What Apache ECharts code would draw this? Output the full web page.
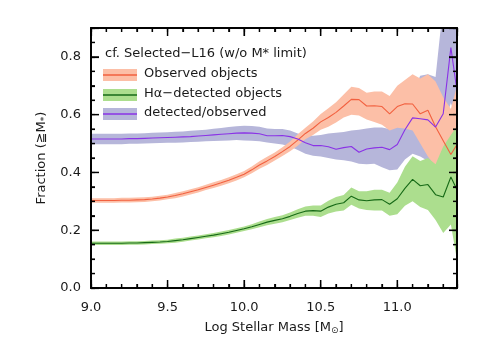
<!DOCTYPE html>
<html>
<head>
<meta charset="utf-8">
<script src="https://cdn.jsdelivr.net/npm/echarts@6/dist/echarts.min.js"></script>
<style>
html,body{margin:0;padding:0;background:#fff;}
#chart{width:485px;height:346px;}
</style>
</head>
<body>
<div id="chart"></div>
<script>
// ---- Data ----
const logMass = [9.00,9.05,9.10,9.15,9.20,9.25,9.30,9.35,9.40,9.45,
                 9.50,9.55,9.60,9.65,9.70,9.75,9.80,9.85,9.90,9.95,
                 10.00,10.05,10.10,10.15,10.20,10.25,10.30,10.35,10.40,10.45,
                 10.50,10.55,10.60,10.65,10.70,10.75,10.80,10.85,10.90,10.95,
                 11.00,11.05,11.10,11.15,11.20,11.25,11.30,11.35,11.39];

const observed = [0.303,0.303,0.303,0.303,0.304,0.304,0.305,0.306,0.308,0.311,
                  0.315,0.320,0.326,0.333,0.340,0.348,0.356,0.364,0.373,0.383,
                  0.394,0.409,0.426,0.440,0.455,0.472,0.490,0.512,0.535,0.553,
                  0.575,0.590,0.608,0.630,0.653,0.652,0.630,0.631,0.628,0.603,
                  0.628,0.638,0.637,0.603,0.615,0.558,0.510,0.462,0.497];
const observedLo = [0.295,0.295,0.295,0.295,0.296,0.296,0.297,0.298,0.300,0.303,
                    0.307,0.311,0.317,0.324,0.331,0.339,0.346,0.354,0.363,0.372,
                    0.383,0.397,0.413,0.426,0.441,0.457,0.473,0.492,0.515,0.530,
                    0.548,0.558,0.573,0.590,0.600,0.597,0.583,0.575,0.565,0.545,
                    0.555,0.552,0.545,0.500,0.455,0.420,0.400,0.380,0.400];
const observedHi = [0.311,0.311,0.311,0.311,0.312,0.312,0.313,0.314,0.316,0.319,
                    0.323,0.329,0.335,0.342,0.349,0.357,0.366,0.374,0.383,0.394,
                    0.405,0.421,0.439,0.454,0.469,0.487,0.507,0.532,0.555,0.576,
                    0.602,0.622,0.643,0.670,0.697,0.692,0.676,0.680,0.680,0.665,
                    0.700,0.720,0.740,0.725,0.740,0.715,0.660,0.620,0.700];

const detected = [0.155,0.155,0.155,0.155,0.155,0.156,0.156,0.157,0.158,0.159,
                  0.161,0.164,0.167,0.171,0.175,0.179,0.183,0.188,0.193,0.199,
                  0.205,0.212,0.220,0.228,0.234,0.240,0.248,0.258,0.266,0.268,
                  0.266,0.280,0.290,0.295,0.318,0.305,0.302,0.305,0.306,0.290,
                  0.309,0.345,0.376,0.354,0.358,0.323,0.315,0.384,0.340];
const detectedLo = [0.149,0.149,0.149,0.149,0.149,0.150,0.150,0.151,0.152,0.153,
                    0.155,0.157,0.160,0.164,0.168,0.172,0.176,0.180,0.185,0.191,
                    0.197,0.203,0.210,0.217,0.222,0.228,0.235,0.243,0.250,0.250,
                    0.246,0.258,0.265,0.268,0.288,0.275,0.270,0.268,0.268,0.250,
                    0.255,0.285,0.300,0.280,0.270,0.235,0.190,0.220,0.097];
const detectedHi = [0.161,0.161,0.161,0.161,0.161,0.162,0.162,0.163,0.164,0.165,
                    0.167,0.171,0.174,0.178,0.182,0.186,0.190,0.196,0.201,0.207,
                    0.213,0.221,0.230,0.239,0.246,0.252,0.261,0.273,0.282,0.286,
                    0.286,0.302,0.315,0.322,0.348,0.335,0.335,0.340,0.340,0.330,
                    0.365,0.420,0.456,0.440,0.450,0.428,0.490,0.530,0.560];

const ratio = [0.516,0.516,0.516,0.516,0.516,0.517,0.517,0.518,0.519,0.520,
               0.521,0.522,0.523,0.524,0.526,0.528,0.530,0.532,0.534,0.536,
               0.537,0.536,0.534,0.527,0.527,0.528,0.524,0.516,0.503,0.493,
               0.493,0.489,0.480,0.486,0.490,0.470,0.481,0.485,0.487,0.479,
               0.497,0.548,0.589,0.586,0.582,0.557,0.603,0.832,0.682];
const ratioLo = [0.498,0.498,0.498,0.498,0.498,0.499,0.499,0.500,0.501,0.502,
                 0.503,0.503,0.504,0.505,0.506,0.508,0.509,0.510,0.511,0.512,
                 0.511,0.510,0.508,0.504,0.500,0.497,0.490,0.478,0.465,0.458,
                 0.455,0.450,0.445,0.442,0.438,0.430,0.428,0.430,0.418,0.408,
                 0.410,0.445,0.465,0.455,0.440,0.428,0.560,0.640,0.580];
const ratioHi = [0.534,0.534,0.534,0.534,0.534,0.535,0.535,0.536,0.537,0.538,
                 0.539,0.541,0.542,0.544,0.546,0.548,0.551,0.554,0.557,0.560,
                 0.562,0.561,0.558,0.552,0.550,0.550,0.545,0.535,0.527,0.527,
                 0.530,0.535,0.537,0.540,0.545,0.548,0.552,0.556,0.556,0.550,
                 0.560,0.620,0.680,0.735,0.740,0.730,0.980,1.000,1.000];

// tick values (major ones are labelled)
const xTicks = [9.0,9.1,9.2,9.3,9.4,9.5,9.6,9.7,9.8,9.9,10.0,10.1,10.2,10.3,10.4,
                10.5,10.6,10.7,10.8,10.9,11.0,11.1,11.2,11.3];
const xMajorTicks = [9.0,9.5,10.0,10.5,11.0];
const yTicks = [0.00,0.05,0.10,0.15,0.20,0.25,0.30,0.35,0.40,0.45,0.50,0.55,0.60,
                0.65,0.70,0.75,0.80,0.85];
const yMajorTicks = [0.0,0.2,0.4,0.6,0.8];
const xMin = 9.0, xMax = 11.39, xInterval = 0.5, xMinorInterval = 0.1;
const yMin = 0.0, yMax = 0.9, yInterval = 0.2, yMinorInterval = 0.05;

const legendTitle = 'cf. Selected\u2212L16 (w/o M* limit)';
const legendNames = ['Observed objects', 'H\u03b1\u2212detected objects', 'detected/observed'];

// ---- Layout / styles ----
const GRID = {left: 91, right: 28, top: 28, bottom: 58};
const FONT = 'DejaVu Sans';
const TXT = '#1a1a1a';
const C = {
  redBand: '#fcbfa7', redLine: '#f2603f',
  greenBand: '#acde8e', greenLine: '#176a17',
  blueBand: '#b6b6da', blueLine: '#8a32e6'
};

const chart = echarts.init(document.getElementById('chart'), null, {renderer: 'canvas'});

function bandSeries(name, lo, hi, color, z) {
  return {
    type: 'custom', name: name, xAxisIndex: 0, yAxisIndex: 0, z: z, silent: true,
    data: logMass.map((x, i) => [x, lo[i], hi[i]]),
    encode: {x: 0, y: [1, 2]},
    renderItem: function (params, api) {
      if (params.dataIndex !== 0) return null;
      const top = [], bot = [];
      for (let i = 0; i < logMass.length; i++) {
        top.push(api.coord([logMass[i], hi[i]]));
        bot.push(api.coord([logMass[i], lo[i]]));
      }
      const cs = params.coordSys;
      return {
        type: 'polygon',
        shape: {points: top.concat(bot.reverse())},
        style: {fill: color, stroke: null},
        clipPath: {type: 'rect', shape: {x: cs.x, y: cs.y, width: cs.width, height: cs.height}}
      };
    }
  };
}
function lineSeries(name, vals, color, z) {
  return {
    type: 'line', name: name, xAxisIndex: 0, yAxisIndex: 0, z: z, silent: true,
    data: logMass.map((x, i) => [x, vals[i]]),
    showSymbol: false, symbol: 'none', animation: false,
    lineStyle: {color: color, width: 1.1}
  };
}

const near = (v, list) => list.some(m => Math.abs(m - v) < 1e-6);

// ---- Tick marks: one custom-series item per tick, each drawn as a small polygon ----
// item = [x, y, side]  side: 0 bottom, 1 top, 2 left, 3 right
const MAJ = 8, MIN = 4, TW = 1.3;
const tickItems = [];
xTicks.forEach(x => { tickItems.push([x, yMin, 0]); tickItems.push([x, yMax, 1]); });
yTicks.forEach(y => { tickItems.push([xMin, y, 2]); tickItems.push([xMax, y, 3]); });
const tickSeries = {
  type: 'custom', name: 'ticks', xAxisIndex: 0, yAxisIndex: 0, z: 7, silent: true,
  data: tickItems,
  encode: {x: 0, y: 1},
  renderItem: function (params, api) {
    const x = api.value(0), y = api.value(1), side = api.value(2);
    const p = api.coord([x, y]);
    const h = TW / 2;
    let pts;
    if (side === 0 || side === 1) {
      const len = near(x, xMajorTicks) ? MAJ : MIN;
      const d = side === 0 ? -len : len;
      pts = [[p[0] - h, p[1]], [p[0] + h, p[1]], [p[0] + h, p[1] + d], [p[0] - h, p[1] + d]];
    } else {
      const len = near(y, yMajorTicks) ? MAJ : MIN;
      const d = side === 2 ? len : -len;
      pts = [[p[0], p[1] - h], [p[0], p[1] + h], [p[0] + d, p[1] + h], [p[0] + d, p[1] - h]];
    }
    return {type: 'polygon', shape: {points: pts}, style: {fill: '#000', stroke: null}};
  }
};

const subRich = {sub: {fontFamily: FONT, fontSize: 9, color: TXT, verticalAlign: 'bottom', padding: [6, 0, 0, 0]}};

function xAx(pos, interval, len, labels) {
  return {
    type: 'value', position: pos, min: xMin, max: xMax, interval: interval, z: 20,
    axisLine: {show: true, onZero: false, lineStyle: {color: '#000', width: 1.5}},
    axisTick: {show: true, inside: true, length: len, lineStyle: {color: '#000', width: 1.2}},
    splitLine: {show: false},
    axisLabel: labels ? {
      show: true, margin: 13, fontFamily: FONT, fontSize: 13, color: TXT,
      formatter: v => near(v, xMajorTicks) ? v.toFixed(1) : ''
    } : {show: false}
  };
}
function yAx(pos, interval, len, labels) {
  return {
    type: 'value', position: pos, min: yMin, max: yMax, interval: interval, z: 20,
    axisLine: {show: true, onZero: false, lineStyle: {color: '#000', width: 1.5}},
    axisTick: {show: true, inside: true, length: len, lineStyle: {color: '#000', width: 1.2}},
    splitLine: {show: false},
    axisLabel: labels ? {
      show: true, margin: 10, fontFamily: FONT, fontSize: 13, color: TXT,
      formatter: v => near(v, yMajorTicks) ? v.toFixed(1) : ''
    } : {show: false}
  };
}
const xAxes = [
  xAx('bottom', xInterval, MAJ, true),
  xAx('bottom', xMinorInterval, MIN, false),
  xAx('top', xInterval, MAJ, false),
  xAx('top', xMinorInterval, MIN, false)
];
Object.assign(xAxes[0], {
  name: 'Log Stellar Mass [M{sub|\u2299}]', nameLocation: 'middle', nameGap: 32,
  nameTextStyle: {fontFamily: FONT, fontSize: 13, color: TXT, rich: subRich}
});
const yAxes = [
  yAx('left', yInterval, MAJ, true),
  yAx('left', yMinorInterval, MIN, false),
  yAx('right', yInterval, MAJ, false),
  yAx('right', yMinorInterval, MIN, false)
];
Object.assign(yAxes[0], {
  name: 'Fraction (\u2267M{sub|*})', nameLocation: 'middle', nameGap: 32,
  nameTextStyle: {fontFamily: FONT, fontSize: 13, color: TXT, rich: subRich}
});

// legend drawn as graphics
const legX = 103, legW = 34, legH = 12, legTextX = 144;
const legRows = [75, 95, 114];
const legBand = [C.redBand, C.greenBand, C.blueBand];
const legLine = [C.redLine, C.greenLine, C.blueLine];
const graphics = [{
  type: 'text', left: 105, top: 55 - 8, z: 100,
  style: {text: legendTitle, font: '13px "' + FONT + '"', fill: TXT}
}];
legRows.forEach((cy, i) => {
  graphics.push({type: 'rect', z: 100, shape: {x: legX, y: cy - legH / 2, width: legW, height: legH}, style: {fill: legBand[i]}});
  graphics.push({type: 'line', z: 101, shape: {x1: legX, y1: cy, x2: legX + legW, y2: cy}, style: {stroke: legLine[i], lineWidth: 1.3}});
  graphics.push({type: 'text', z: 100, left: legTextX, top: cy - 8,
    style: {text: legendNames[i], font: '13px "' + FONT + '"', fill: TXT}});
});

chart.setOption({
  animation: false,
  backgroundColor: '#fff',
  grid: Object.assign({containLabel: false, show: true, borderColor: '#000', borderWidth: 1.5,
                       backgroundColor: 'transparent', z: 10}, GRID),
  xAxis: xAxes,
  yAxis: yAxes,
  graphic: graphics,
  series: [
    bandSeries('ratioBand', ratioLo, ratioHi, C.blueBand, 1),
    bandSeries('observedBand', observedLo, observedHi, C.redBand, 2),
    bandSeries('detectedBand', detectedLo, detectedHi, C.greenBand, 3),
    lineSeries(legendNames[0], observed, C.redLine, 5),
    lineSeries(legendNames[1], detected, C.greenLine, 5),
    lineSeries(legendNames[2], ratio, C.blueLine, 6),
    tickSeries
  ]
});
</script>
</body>
</html>
